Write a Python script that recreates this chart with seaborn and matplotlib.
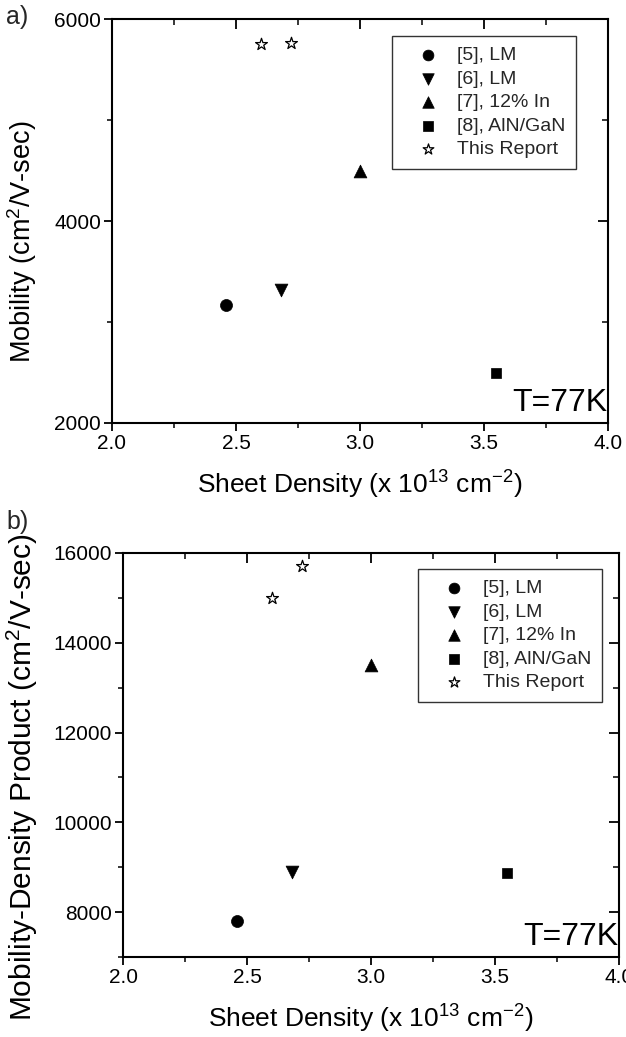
import matplotlib
matplotlib.use("Agg")
import matplotlib.pyplot as plt
import seaborn as sns
import pandas as pd
from matplotlib.ticker import MultipleLocator

sns.set_theme(style="white")
plt.rcParams['font.family'] = ['Liberation Sans', 'DejaVu Sans']
plt.rcParams['mathtext.fontset'] = 'custom'
plt.rcParams['mathtext.rm'] = 'Liberation Sans'
plt.rcParams['mathtext.it'] = 'Liberation Sans'

# ---- data ----
series_labels = ["[5], LM", "[6], LM", "[7], 12% In", "[8], AlN/GaN", "This Report"]
density_x = [[2.46], [2.68], [3.00], [3.55], [2.60, 2.72]]
mobility_y = [[3170], [3320], [4500], [2500], [5760, 5770]]
product_y = [[7800], [8900], [13500], [8880], [15000, 15700]]
x_ticks = [2.0, 2.5, 3.0, 3.5, 4.0]
mob_ticks = [2000, 4000, 6000]
prod_ticks = [8000, 10000, 12000, 14000, 16000]

markers = ["o", "v", "^", "s", "*"]
sizes = [75, 85, 85, 60, 80]

fig = plt.figure(figsize=(6.26, 10.37), dpi=100)
ax1 = fig.add_axes([112/626, 1-423/1037, (608-112)/626, (423-19.5)/1037])
ax2 = fig.add_axes([123/626, 1-957/1037, (619-123)/626, (957-553)/1037])


def draw(ax, yvals, yticks, ylim, ylabel, ylab_size, ylab_xy, leg_xy):
    for lab, xs, ys, m, s in zip(series_labels, density_x, yvals, markers, sizes):
        df = pd.DataFrame({"x": xs, "y": ys})
        if m == "*":
            sns.scatterplot(data=df, x="x", y="y", ax=ax, marker=m, s=s,
                            facecolor="white", edgecolor="black", linewidth=0.9,
                            label=lab, zorder=3)
        else:
            sns.scatterplot(data=df, x="x", y="y", ax=ax, marker=m, s=s,
                            color="black", edgecolor="black", linewidth=0.5,
                            label=lab, zorder=3)
    ax.set_xlim(2.0, 4.0)
    ax.set_ylim(*ylim)
    ax.set_xticks(x_ticks)
    ax.set_xticklabels([f"{t:.1f}" for t in x_ticks])
    ax.set_yticks(yticks)
    ax.set_yticklabels([str(t) for t in yticks])
    ax.xaxis.set_minor_locator(MultipleLocator(0.25))
    ax.yaxis.set_minor_locator(MultipleLocator(1000))
    ax.tick_params(which="major", direction="out", length=6, width=1.3,
                   colors="black", labelsize=15, pad=2)
    ax.tick_params(which="minor", direction="out", length=3.5, width=1.1,
                   colors="black")
    ax.tick_params(which="both", bottom=True, left=True)
    for sp in ax.spines.values():
        sp.set_color("black")
        sp.set_linewidth(1.5)
        sp.set_visible(True)
    # mirrored inward ticks on top and right
    top = ax.secondary_xaxis("top")
    top.set_xticks(x_ticks)
    top.xaxis.set_minor_locator(MultipleLocator(0.25))
    top.tick_params(which="major", direction="in", length=7, width=1.3, labeltop=False, colors="black")
    top.tick_params(which="minor", direction="in", length=4, width=1.1, colors="black")
    top.set_xticklabels([])
    right = ax.secondary_yaxis("right")
    right.set_yticks(yticks)
    right.yaxis.set_minor_locator(MultipleLocator(1000))
    right.tick_params(which="major", direction="in", length=7, width=1.3, colors="black")
    right.tick_params(which="minor", direction="in", length=4, width=1.1, colors="black")
    right.set_yticklabels([])
    for sa in (top, right):
        for sp in sa.spines.values():
            sp.set_visible(False)

    ax.set_xlabel("Sheet Density (x 10$^{13}$ cm$^{-2}$)", fontsize=19, color="black", labelpad=11)
    ax.set_ylabel(ylabel, fontsize=ylab_size, color="black")
    ax.yaxis.set_label_coords(*ylab_xy)
    ax.text(0.998, 0.012, "T=77K", transform=ax.transAxes, ha="right", va="bottom",
            fontsize=23, color="black")
    leg = ax.legend(loc="upper right", bbox_to_anchor=leg_xy, frameon=True,
                    fancybox=False, edgecolor="black", fontsize=14,
                    handletextpad=0.2, borderpad=0.55, labelspacing=0.3,
                    handlelength=2.6, borderaxespad=0.0, markerscale=0.9)
    leg.get_frame().set_linewidth(1.0)
    leg.get_frame().set_facecolor("white")


draw(ax1, mobility_y, mob_ticks, (2000, 6000), "Mobility (cm$^2$/V-sec)", 19.5,
     (-0.148, 0.449), (0.935, 0.959))
draw(ax2, product_y, prod_ticks, (7000, 16000), "Mobility-Density Product (cm$^2$/V-sec)", 21.5,
     (-0.168, 0.446), (0.966, 0.960))

fig.text(6/626, 1-17/1037, "a)", fontsize=18, va="center", ha="left")
fig.text(6/626, 1-522/1037, "b)", fontsize=18, va="center", ha="left")

fig.savefig("out.png", dpi=100)
